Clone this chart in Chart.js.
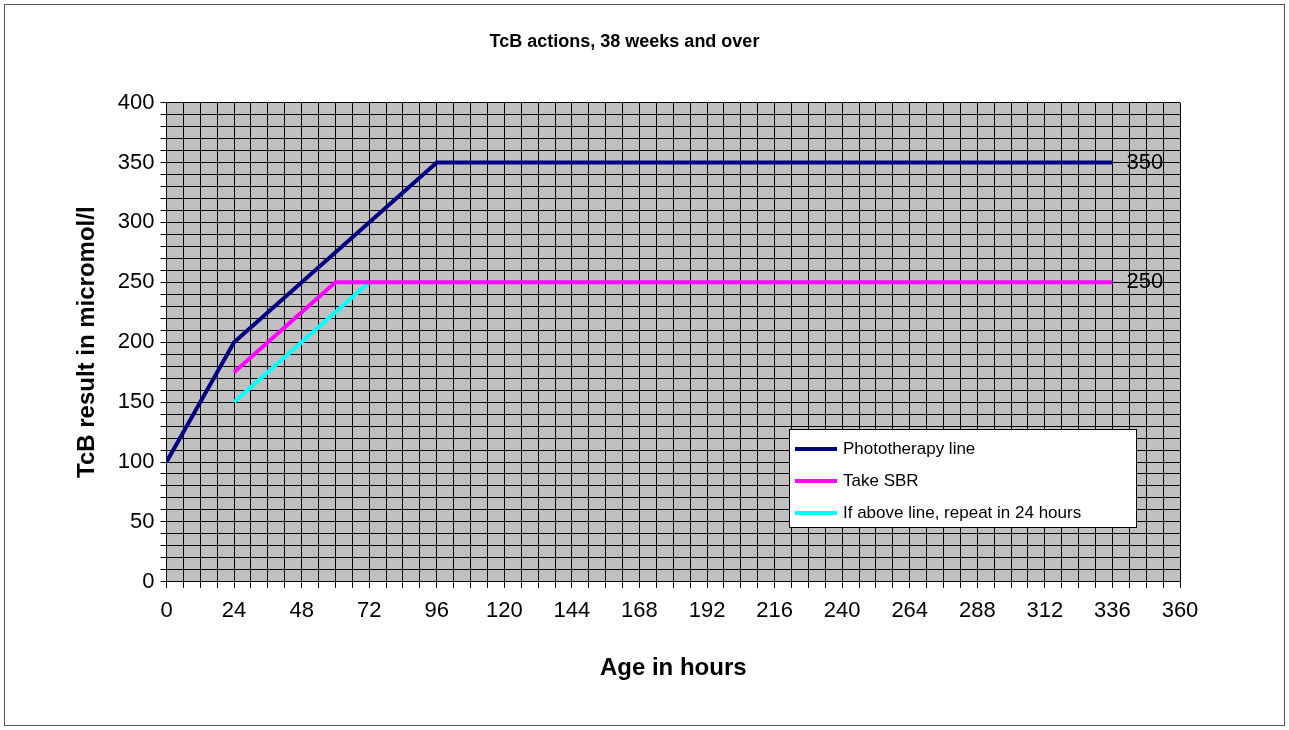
<!DOCTYPE html>
<html><head><meta charset="utf-8">
<script src="https://cdn.jsdelivr.net/npm/chart.js@4"></script>
<style>
body{margin:0;background:#fff;}
#wrap{position:absolute;left:4px;top:4px;width:1279px;height:720px;border:1px solid #555;}
</style></head><body>
<div id="wrap"><canvas id="c"></canvas></div>
<script>
const phototherapyHours = [0, 24, 96, 336];
const phototherapyValues = [100, 200, 350, 350];
const sbrHours = [24, 60, 336];
const sbrValues = [175, 250, 250];
const repeatHours = [24, 72];
const repeatValues = [150, 250];
const seriesNames = ['Phototherapy line', 'Take SBR', 'If above line, repeat in 24 hours'];
const seriesColors = ['#000080', '#ff00ff', '#00ffff'];
const endLabels = ['350', '250'];

function pts(xs, ys) { return xs.map((x, i) => ({x: x, y: ys[i]})); }

const extras = {
    id: 'extras',
    beforeDraw(chart) {
        const a = chart.chartArea, ctx = chart.ctx;
        ctx.save();
        ctx.fillStyle = '#c0c0c0';
        ctx.fillRect(a.left, a.top, a.right - a.left, a.bottom - a.top);
        ctx.restore();
    },
    afterDraw(chart) {
        const ctx = chart.ctx, xs = chart.scales.x, ys = chart.scales.y;
        ctx.save();
        ctx.font = '22px Arial, "Liberation Sans"';
        ctx.fillStyle = '#000';
        ctx.textBaseline = 'middle';
        ctx.fillText(endLabels[0], xs.getPixelForValue(336) + 14, ys.getPixelForValue(phototherapyValues[3]));
        ctx.fillText(endLabels[1], xs.getPixelForValue(336) + 14, ys.getPixelForValue(sbrValues[2]));
        // legend box
        const lx = 784, ly = 424, lw = 347, lh = 98;
        ctx.fillStyle = '#fff';
        ctx.fillRect(lx, ly, lw, lh);
        ctx.strokeStyle = '#000';
        ctx.lineWidth = 1;
        ctx.strokeRect(lx + 0.5, ly + 0.5, lw, lh);
        ctx.font = '17px Arial, "Liberation Sans"';
        seriesNames.forEach((n, i) => {
            const y = ly + 20 + i * 32;
            ctx.strokeStyle = seriesColors[i];
            ctx.lineWidth = 4;
            ctx.beginPath(); ctx.moveTo(lx + 6, y); ctx.lineTo(lx + 48, y); ctx.stroke();
            ctx.fillStyle = '#000';
            ctx.fillText(n, lx + 54, y);
        });
        ctx.restore();
    }
};

const ds = [
    pts(phototherapyHours, phototherapyValues),
    pts(sbrHours, sbrValues),
    pts(repeatHours, repeatValues)
].map((d, i) => ({
    label: seriesNames[i], data: d, borderColor: seriesColors[i],
    borderWidth: 4, pointRadius: 0, tension: 0, fill: false
}));

new Chart(document.getElementById('c'), {
    type: 'line',
    data: {datasets: ds},
    plugins: [extras],
    options: {
        responsive: true, maintainAspectRatio: false, animation: false,
        layout: {padding: {left: 64, right: 104, top: 18, bottom: 38}},
        plugins: {
            legend: {display: false}, tooltip: {enabled: false},
            title: {display: true, text: 'TcB actions, 38 weeks and over', color: '#000',
                font: {family: 'Arial, "Liberation Sans"', size: 18, weight: 'bold'}, padding: {top: 8, bottom: 50}}
        },
        scales: {
            x: {
                type: 'linear', min: 0, max: 360,
                ticks: {stepSize: 6, autoSkip: false, maxRotation: 0, color: '#000', padding: 10,
                    font: {family: 'Arial, "Liberation Sans"', size: 22},
                    callback: v => v % 24 === 0 ? String(v) : ''},
                grid: {color: '#000', lineWidth: 1, tickLength: 6},
                border: {color: '#000'},
                title: {display: true, text: 'Age in hours', color: '#000', padding: {top: 20},
                    font: {family: 'Arial, "Liberation Sans"', size: 24, weight: 'bold'}}
            },
            y: {
                min: 0, max: 400,
                ticks: {stepSize: 10, autoSkip: false, color: '#000', padding: 6,
                    font: {family: 'Arial, "Liberation Sans"', size: 22},
                    callback: v => v % 50 === 0 ? String(v) : ''},
                grid: {color: '#000', lineWidth: 1, tickLength: 6},
                border: {color: '#000'},
                title: {display: true, text: 'TcB result in micromol/l', color: '#000', padding: {bottom: 10},
                    font: {family: 'Arial, "Liberation Sans"', size: 24, weight: 'bold'}}
            }
        }
    }
});
</script>
</body></html>
